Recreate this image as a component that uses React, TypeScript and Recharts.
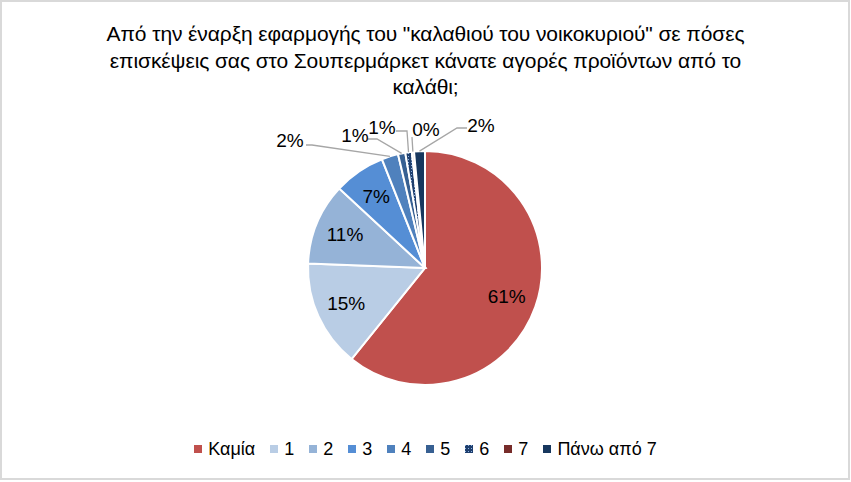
import { PieChart, Pie, Cell } from "recharts";

const CATEGORIES = ["Καμία", "1", "2", "3", "4", "5", "6", "7", "Πάνω από 7"];
const SHARES = [60.8, 14.8, 11.3, 7.1, 2.3, 1.0, 0.9, 0.3, 1.5];
const COLORS = [
  "#C0504D",
  "#B9CDE5",
  "#95B3D7",
  "#558ED5",
  "#4F81BD",
  "#376092",
  "url(#dots6)",
  "#772C2A",
  "#17375E",
];
const TITLE_LINES = [
  'Από την έναρξη εφαρμογής του "καλαθιού του νοικοκυριού" σε πόσες',
  "επισκέψεις σας στο Σουπερμάρκετ κάνατε αγορές προϊόντων από το",
  "καλάθι;",
];

// where the small-slice labels sit, relative to the pie centre
// t = text centre, e = elbow of the leader line, s = side of the text where the line ends
const OUTSIDE: Record<number, { t: [number, number]; e: [number, number]; s: [number, number] }> = {
  4: { t: [-135, -128], e: [-113, -123], s: [-119, -123] },
  5: { t: [-70, -133], e: [-48, -129], s: [-57, -129] },
  6: { t: [-43, -141], e: [-18, -137], s: [-29, -137] },
  7: { t: [1, -139], e: [-13, -131], s: [-13, -131] },
  8: { t: [56, -143], e: [32, -140], s: [42, -140] },
};

const data = CATEGORIES.map((name, i) => ({ name, value: SHARES[i] }));
const FONT = '"Liberation Sans", Arial, sans-serif';
const RAD = Math.PI / 180;

function renderLabel(props: any) {
  const { cx, cy, midAngle, outerRadius, index, percent } = props;
  const text = `${Math.round(percent * 100)}%`;
  const cos = Math.cos(-midAngle * RAD);
  const sin = Math.sin(-midAngle * RAD);
  const spot = OUTSIDE[index];
  if (!spot) {
    const r = outerRadius * 0.74;
    return (
      <text
        key={`l${index}`}
        x={cx + r * cos}
        y={cy + r * sin}
        textAnchor="middle"
        dominantBaseline="central"
        fontFamily={FONT}
        fontSize={19}
        fill="#000"
      >
        {text}
      </text>
    );
  }
  const ex = cx + outerRadius * cos;
  const ey = cy + outerRadius * sin;
  const pts = `${ex},${ey} ${cx + spot.e[0]},${cy + spot.e[1]} ${cx + spot.s[0]},${cy + spot.s[1]}`;
  return (
    <g key={`l${index}`}>
      <polyline points={pts} fill="none" stroke="#A6A6A6" strokeWidth={1.3} />
      <text
        x={cx + spot.t[0]}
        y={cy + spot.t[1]}
        textAnchor="middle"
        dominantBaseline="central"
        fontFamily={FONT}
        fontSize={19}
        fill="#000"
      >
        {text}
      </text>
    </g>
  );
}

function DotsPattern() {
  return (
    <svg width={0} height={0} style={{ position: "absolute" }}>
      <defs>
        <pattern id="dots6" width={3} height={3} patternUnits="userSpaceOnUse">
          <rect width={3} height={3} fill="#1F3F6E" />
          <rect width={1} height={1} fill="#8DB3E2" />
        </pattern>
      </defs>
    </svg>
  );
}

export default function App() {
  return (
    <div style={{ position: "relative", width: 851, height: 482, background: "#fff", fontFamily: FONT }}>
      <style>{`body{margin:0}`}</style>
      <DotsPattern />
      <div
        style={{
          position: "absolute",
          left: 0,
          top: 0,
          width: 850,
          height: 480,
          border: "2px solid #D9D9D9",
          boxSizing: "border-box",
        }}
      />
      <div
        style={{
          position: "absolute",
          left: 0,
          top: 21,
          width: 851,
          textAlign: "center",
          fontSize: 21,
          letterSpacing: -0.1,
          lineHeight: "26.5px",
          color: "#000",
        }}
      >
        {TITLE_LINES.map((l) => (
          <div key={l}>{l}</div>
        ))}
      </div>
      <div style={{ position: "absolute", left: 0, top: 0 }}>
        <PieChart width={851} height={482} margin={{ top: 0, right: 0, bottom: 0, left: 0 }}>
          <Pie
            data={data}
            dataKey="value"
            nameKey="name"
            cx={425}
            cy={268}
            outerRadius={117}
            startAngle={90}
            endAngle={-270}
            stroke="#fff"
            strokeWidth={2}
            labelLine={false}
            label={renderLabel}
            isAnimationActive={false}
          >
            {data.map((d, i) => (
              <Cell key={d.name} fill={COLORS[i]} />
            ))}
          </Pie>
        </PieChart>
      </div>
      <div
        style={{
          position: "absolute",
          left: 0,
          top: 437,
          width: 851,
          display: "flex",
          justifyContent: "center",
          alignItems: "center",
          fontSize: 18,
          lineHeight: "24px",
          color: "#000",
        }}
      >
        {CATEGORIES.map((c, i) => (
          <div key={c} style={{ display: "flex", alignItems: "center", marginRight: i === CATEGORIES.length - 1 ? 0 : 15 }}>
            <svg width={8} height={8} style={{ marginRight: 6 }}>
              <rect width={8} height={8} fill={COLORS[i]} />
            </svg>
            <span>{c}</span>
          </div>
        ))}
      </div>
    </div>
  );
}
